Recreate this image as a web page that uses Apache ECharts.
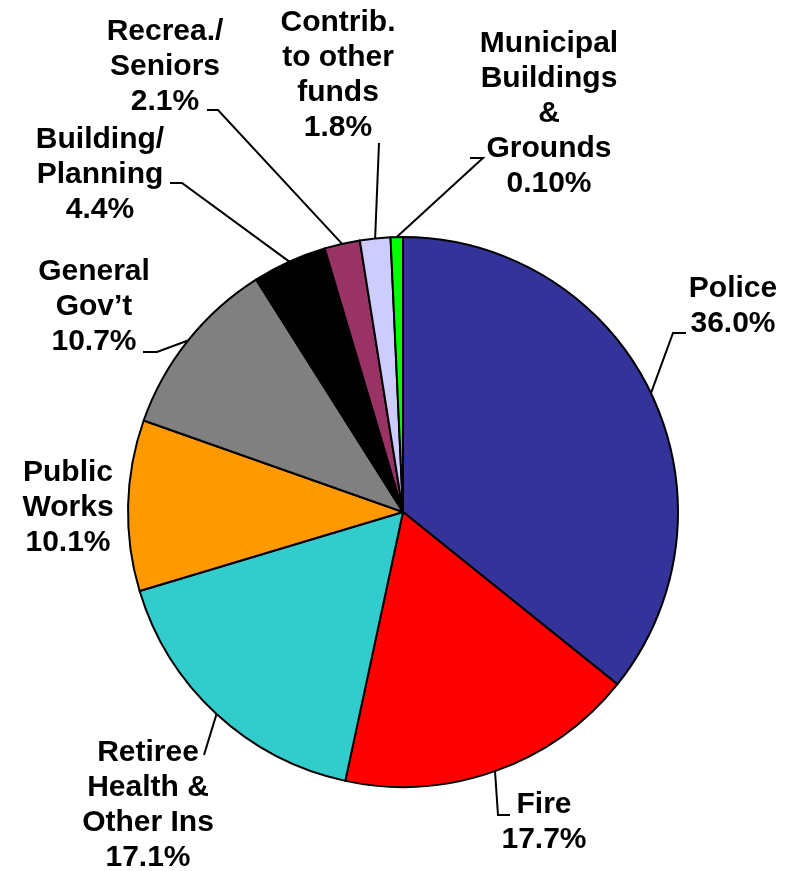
<!DOCTYPE html>
<html>
<head>
<meta charset="utf-8">
<script src="https://cdn.jsdelivr.net/npm/echarts@6/dist/echarts.min.js"></script>
<style>
html,body{margin:0;padding:0;background:#fff;}
#chart{width:796px;height:871px;}
</style>
</head>
<body>
<div id="chart"></div>
<script>
// ---- data ----
var categories = [
  'Police',
  'Fire',
  'Retiree\nHealth &\nOther Ins',
  'Public\nWorks',
  'General\nGov\u2019t',
  'Building/\nPlanning',
  'Recrea./\nSeniors',
  'Contrib.\nto other\nfunds',
  'Municipal\nBuildings\n&\nGrounds'
];
var values = [36.0, 17.7, 17.1, 10.1, 10.7, 4.4, 2.1, 1.8, 0.10];
var valueLabels = ['36.0%', '17.7%', '17.1%', '10.1%', '10.7%', '4.4%', '2.1%', '1.8%', '0.10%'];
var colors = ['#333399', '#FF0000', '#33CCCC', '#FF9900', '#808080', '#000000', '#993366', '#CCCCFF', '#00FF00'];

// ---- label placement (layout, not data) ----
var labelPlacement = [
  {x: 733, y: 306, line: [[673, 333], [686, 333]]},
  {x: 544, y: 822, line: [[498, 815], [510, 815]]},
  {x: 148, y: 805, line: [[204, 755], [204, 755]]},
  {x: 68,  y: 508, line: null},
  {x: 94,  y: 307, line: [[157, 352], [143, 352]]},
  {x: 100, y: 175, line: [[182, 183], [170, 183]]},
  {x: 165, y: 67,  line: [[218, 110], [207, 110]]},
  {x: 338, y: 75,  line: [[379, 143], [379, 143]]},
  {x: 549, y: 114, line: [[483, 158], [470, 158]]}
];

var chart = echarts.init(document.getElementById('chart'), null, {renderer: 'canvas'});

var data = categories.map(function (name, i) {
  var item = {
    name: name,
    value: values[i],
    itemStyle: {color: colors[i]}
  };
  if (!labelPlacement[i].line) {
    item.labelLine = {show: false};
  }
  return item;
});

chart.setOption({
  animation: false,
  backgroundColor: '#ffffff',
  series: [{
    type: 'pie',
    center: [403, 512],
    radius: 275,
    startAngle: 90,
    clockwise: true,
    minAngle: 2.6,
    avoidLabelOverlap: false,
    data: data,
    itemStyle: {borderColor: '#000000', borderWidth: 2},
    emphasis: {disabled: true},
    label: {
      show: true,
      position: 'outside',
      overflow: 'none',
      formatter: function (p) {
        return p.name + '\n' + valueLabels[p.dataIndex];
      },
      fontFamily: '"Liberation Sans", Arial, sans-serif',
      fontWeight: 'bold',
      fontSize: 30,
      lineHeight: 35,
      color: '#000000',
      align: 'center'
    },
    labelLine: {
      show: true,
      length: 10,
      length2: 10,
      smooth: false,
      lineStyle: {color: '#000000', width: 2}
    },
    labelLayout: function (params) {
      var pl = labelPlacement[params.dataIndex];
      var res = {x: pl.x, y: pl.y, align: 'center', verticalAlign: 'middle'};
      if (pl.line && params.labelLinePoints) {
        var start = params.labelLinePoints[0];
        res.labelLinePoints = [[start[0], start[1]], pl.line[0], pl.line[1]];
      }
      return res;
    }
  }]
});
</script>
</body>
</html>
